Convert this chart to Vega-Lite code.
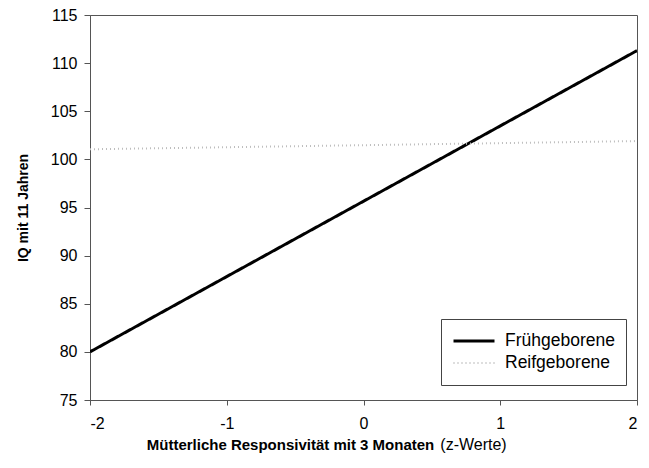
{
  "$schema": "https://vega.github.io/schema/vega-lite/v6.json",
  "autosize": "none",
  "width": 547,
  "height": 385,
  "padding": {"left": 90, "top": 15, "right": 12, "bottom": 68},
  "background": "white",
  "config": {
    "font": "Liberation Sans",
    "view": {"stroke": "#555", "strokeWidth": 1},
    "axis": {
      "grid": false,
      "domainColor": "#555",
      "tickColor": "#555",
      "labelColor": "black",
      "labelFont": "Liberation Sans",
      "labelFontSize": 16,
      "titleFont": "Liberation Sans",
      "titleFontSize": 14,
      "titleColor": "black"
    }
  },
  "data": {
    "values": [
      {"z": -2, "iq": 80.0, "group": "Frühgeborene"},
      {"z": 2, "iq": 111.3, "group": "Frühgeborene"},
      {"z": -2, "iq": 101.05, "group": "Reifgeborene"},
      {"z": 2, "iq": 101.9, "group": "Reifgeborene"}
    ]
  },
  "layer": [
    {
      "mark": {"type": "line", "clip": true},
      "encoding": {
        "x": {
          "field": "z", "type": "quantitative",
          "scale": {"domain": [-2, 2], "nice": false, "zero": false},
          "axis": {
            "orient": "bottom",
            "values": [-2, -1, 0, 1, 2],
            "labelExpr": "'' + datum.value",
            "tickSize": 5,
            "labelPadding": 10,
            "title": "Mütterliche Responsivität mit 3 Monaten",
            "titleFontWeight": "bold",
            "titleFontSize": 15,
            "titleX": 200,
            "titleY": 49,
            "titleBaseline": "alphabetic"
          }
        },
        "y": {
          "field": "iq", "type": "quantitative",
          "scale": {"domain": [75, 115], "nice": false, "zero": false},
          "axis": {
            "values": [75, 80, 85, 90, 95, 100, 105, 110, 115],
            "tickSize": 6,
            "labelPadding": 7,
            "title": "IQ mit 11 Jahren",
            "titleFontWeight": "bold",
            "titlePadding": 20
          }
        },
        "color": {
          "field": "group", "type": "nominal",
          "scale": {"domain": ["Frühgeborene", "Reifgeborene"], "range": ["#000000", "#bdbdbd"]},
          "legend": {
            "title": null,
            "orient": "none",
            "legendX": 351,
            "legendY": 304,
            "strokeColor": "#444",
            "fillColor": "white",
            "padding": 11,
            "clipHeight": 22,
            "rowPadding": 0,
            "symbolType": "stroke",
            "symbolSize": 1681,
            "labelFontSize": 17.5,
            "labelColor": "black",
            "labelOffset": 9,
            "labelFont": "Liberation Sans"
          }
        },
        "strokeDash": {
          "field": "group", "type": "nominal",
          "scale": {"domain": ["Frühgeborene", "Reifgeborene"], "range": [[1, 0], [1, 3]]},
          "legend": null
        },
        "strokeWidth": {
          "field": "group", "type": "nominal",
          "scale": {"domain": ["Frühgeborene", "Reifgeborene"], "range": [3, 2]},
          "legend": null
        }
      }
    },
    {
      "mark": {"type": "rule", "opacity": 0},
      "encoding": {
        "x": {
          "field": "z", "type": "quantitative",
          "axis": {
            "orient": "bottom",
            "labels": false,
            "ticks": false,
            "domain": false,
            "title": "(z-Werte)",
            "titleFontWeight": "normal",
            "titleFontSize": 16,
            "titleX": 383,
            "titleY": 49,
            "titleBaseline": "alphabetic"
          }
        }
      }
    }
  ],
  "resolve": {"axis": {"x": "independent"}}
}
